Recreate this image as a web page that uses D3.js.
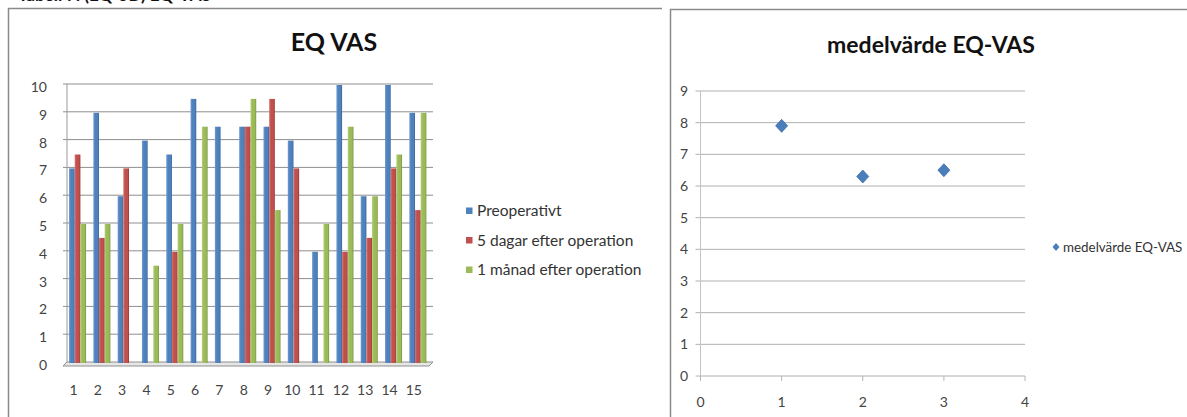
<!DOCTYPE html>
<html>
<head>
<meta charset="utf-8">
<script src="https://cdn.jsdelivr.net/npm/d3@7"></script>
<style>
  html, body { margin: 0; padding: 0; background: #fff; }
  svg { display: block; }
  text { font-family: Lato, "Open Sans", sans-serif; }
</style>
</head>
<body>
<svg id="chart" width="1187" height="417"></svg>
<script>
// EQ VAS per patient (1–15) at three time points
const patients = ["1","2","3","4","5","6","7","8","9","10","11","12","13","14","15"];
const seriesNames = ["Preoperativt", "5 dagar efter operation", "1 månad efter operation"];
const preoperativt = [7, 9, 6, 8, 7.5, 9.5, 8.5, 8.5, 8.5, 8, 4, 10, 6, 10, 9];
const dagar5 = [7.5, 4.5, 7, 0, 4, 0, 0, 8.5, 9.5, 7, 0, 4, 4.5, 7, 5.5];
const manad1 = [5, 5, 0, 3.5, 5, 8.5, 0, 9.5, 5.5, 0, 5, 8.5, 6, 7.5, 9];
const barTicks = [0, 1, 2, 3, 4, 5, 6, 7, 8, 9, 10];

// Mean EQ-VAS per time point
const meanX = [1, 2, 3];
const meanY = [7.9, 6.3, 6.5];
const meanXTicks = [0, 1, 2, 3, 4];
const meanYTicks = [0, 1, 2, 3, 4, 5, 6, 7, 8, 9];

const colors = ["#4f81bd", "#c0504d", "#9bbb59"];
const darker = ["#36649c", "#9b3633", "#789440"];
const lighter = ["#6f9ad0", "#d4716e", "#b3cf75"];

const svg = d3.select("#chart");
const defs = svg.append("defs");
colors.forEach((c, i) => {
  const g = defs.append("linearGradient").attr("id", "bar" + i)
    .attr("x1", "0").attr("x2", "1").attr("y1", "0").attr("y2", "0");
  g.append("stop").attr("offset", "0%").attr("stop-color", lighter[i]);
  g.append("stop").attr("offset", "35%").attr("stop-color", c);
  g.append("stop").attr("offset", "75%").attr("stop-color", c);
  g.append("stop").attr("offset", "100%").attr("stop-color", darker[i]);
});

// caption line above the charts (runs off the page top)
svg.append("text").attr("x", 18).attr("y", 1)
  .attr("font-family", "Liberation Serif, serif").attr("font-weight", "bold")
  .attr("font-size", 17).attr("fill", "#111")
  .text("Tabell 7. (EQ-5D) EQ-VAS");

/* ---------------- Left: clustered columns ---------------- */
svg.append("path")
  .attr("d", "M8.5,417 L8.5,8.5 L662,8.5")
  .attr("fill", "none").attr("stroke", "#8a8a8a").attr("stroke-width", 1.5);

svg.append("text").attr("x", 334).attr("y", 51)
  .attr("text-anchor", "middle").attr("font-weight", "bold")
  .attr("font-size", 25).attr("fill", "#111").text("EQ VAS");

const yL = d3.scaleLinear().domain([0, 10]).range([362, 84]);
const xL = d3.scaleBand().domain(patients).range([65.4, 430])
  .paddingInner(0.3).paddingOuter(0.15);
const xS = d3.scaleBand().domain(seriesNames).range([0, xL.bandwidth()]);

const wallX0 = 67, wallX1 = 433, depth = 4;
// back wall gridlines
svg.append("g").selectAll("line").data(barTicks.slice(1)).join("line")
  .attr("x1", wallX0 - 4).attr("x2", wallX1)
  .attr("y1", d => yL(d)).attr("y2", d => yL(d))
  .attr("stroke", "#8e8e8e").attr("stroke-width", 1);
// side wall edge
svg.append("line").attr("x1", wallX0).attr("x2", wallX0)
  .attr("y1", yL(10)).attr("y2", yL(0))
  .attr("stroke", "#9a9a9a").attr("stroke-width", 1);
// floor
svg.append("path")
  .attr("d", `M${wallX0},${yL(0)} L${wallX1},${yL(0)} L${wallX1 - depth},${yL(0) + depth} L${wallX0 - depth},${yL(0) + depth} Z`)
  .attr("fill", "#e6e6e6").attr("stroke", "#8f8f8f").attr("stroke-width", 1);

// y tick labels
svg.append("g").selectAll("text").data(barTicks).join("text")
  .attr("x", 47).attr("y", d => yL(d) + depth - 1)
  .attr("dy", "0.35em").attr("text-anchor", "end")
  .attr("font-size", 14).attr("fill", "#444").text(d => d);

// x tick labels
svg.append("g").selectAll("text").data(patients).join("text")
  .attr("x", d => xL(d) + xL.bandwidth() / 2 - 4).attr("y", 395)
  .attr("text-anchor", "middle").attr("font-size", 14).attr("fill", "#444")
  .text(d => d);

// bars
const seriesData = [preoperativt, dagar5, manad1];
const barG = svg.append("g");
seriesData.forEach((vals, si) => {
  barG.append("g").selectAll("rect").data(vals.map((v, i) => ({ p: patients[i], v })))
    .join("rect")
    .attr("x", d => xL(d.p) + xS(seriesNames[si]))
    .attr("width", xS.bandwidth())
    .attr("y", d => yL(d.v) + 1)
    .attr("height", d => Math.max(0, yL(0) - yL(d.v)))
    .attr("fill", `url(#bar${si})`);
});

// legend
const legL = svg.append("g");
seriesNames.forEach((name, i) => {
  const yy = 211 + i * 29.5;
  legL.append("rect").attr("x", 466).attr("y", yy - 3.5).attr("width", 6.5).attr("height", 6.5)
    .attr("fill", colors[i]);
  legL.append("text").attr("x", 477).attr("y", yy).attr("dy", "0.35em")
    .attr("font-size", 15.5).attr("fill", "#333").text(name);
});

/* ---------------- Right: scatter of means ---------------- */
svg.append("path")
  .attr("d", "M670.5,417 L670.5,9.5 L1187,9.5")
  .attr("fill", "none").attr("stroke", "#8a8a8a").attr("stroke-width", 1.5);

svg.append("text").attr("x", 931).attr("y", 53)
  .attr("text-anchor", "middle").attr("font-weight", "bold")
  .attr("font-size", 23).attr("fill", "#111").text("medelvärde EQ-VAS");

const xR = d3.scaleLinear().domain([0, 4]).range([700.5, 1025]);
const yR = d3.scaleLinear().domain([0, 9]).range([376, 91]);

svg.append("g").selectAll("line").data(meanYTicks).join("line")
  .attr("x1", xR(0) - 5).attr("x2", xR(4))
  .attr("y1", d => yR(d)).attr("y2", d => yR(d))
  .attr("stroke", "#b0b0b0").attr("stroke-width", 1);
svg.append("line").attr("x1", xR(0)).attr("x2", xR(0))
  .attr("y1", yR(9)).attr("y2", yR(0) + 5)
  .attr("stroke", "#c4c4c4").attr("stroke-width", 1);
svg.append("g").selectAll("line").data(meanXTicks).join("line")
  .attr("x1", d => xR(d)).attr("x2", d => xR(d))
  .attr("y1", yR(0)).attr("y2", yR(0) + 5)
  .attr("stroke", "#b5b5b5").attr("stroke-width", 1);

svg.append("g").selectAll("text").data(meanYTicks).join("text")
  .attr("x", 688).attr("y", d => yR(d)).attr("dy", "0.35em")
  .attr("text-anchor", "end").attr("font-size", 14).attr("fill", "#444").text(d => d);
svg.append("g").selectAll("text").data(meanXTicks).join("text")
  .attr("x", d => xR(d)).attr("y", 407)
  .attr("text-anchor", "middle").attr("font-size", 14).attr("fill", "#444").text(d => d);

const diamond = (cx, cy, w, h) =>
  `M${cx},${cy - h / 2} L${cx + w / 2},${cy} L${cx},${cy + h / 2} L${cx - w / 2},${cy} Z`;

svg.append("g").selectAll("path").data(meanX.map((x, i) => ({ x, y: meanY[i] })))
  .join("path")
  .attr("d", d => diamond(xR(d.x), yR(d.y), 12, 13))
  .attr("fill", "#4a7ebb").attr("stroke", "#3f6fa8").attr("stroke-width", 0.8);

svg.append("path").attr("d", diamond(1056, 247, 7, 8)).attr("fill", "#4a7ebb");
svg.append("text").attr("x", 1063).attr("y", 247).attr("dy", "0.35em")
  .attr("font-size", 13.4).attr("fill", "#333").text("medelvärde EQ-VAS");
</script>
</body>
</html>
